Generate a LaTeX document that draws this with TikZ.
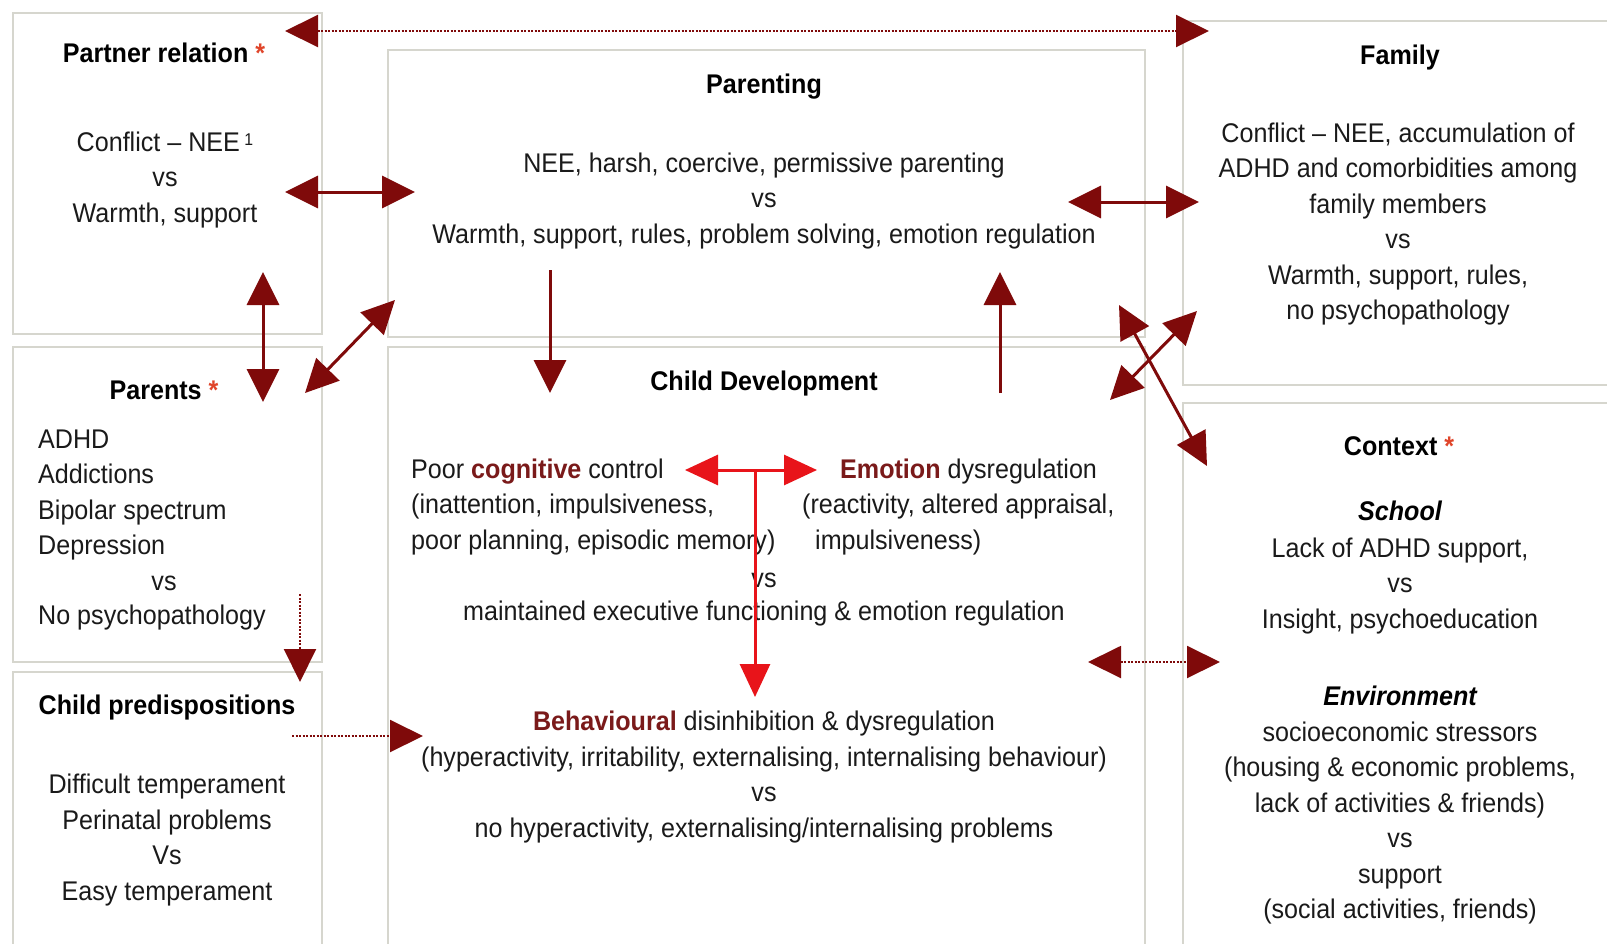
\documentclass[tikz,border=0pt]{standalone}
\usepackage{fontspec}
\setmainfont{Liberation Sans}[FakeStretch=0.93]
\usetikzlibrary{arrows.meta}
\definecolor{arrowred}{HTML}{7F0A0A}
\definecolor{brightred}{HTML}{E8141A}
\definecolor{boldred}{HTML}{7A1A1A}
\definecolor{astcol}{HTML}{E0452A}
\definecolor{txt}{HTML}{1A1A1A}
\definecolor{boxgray}{HTML}{D6D6CE}
\newcommand{\astmark}{\textcolor{astcol}{*}}
\newcommand{\hlword}[1]{\textbf{\textcolor{boldred}{#1}}}
\begin{document}
\begin{tikzpicture}[x=1pt,y=-1pt,
  box/.style={draw=boxgray, line width=1.5pt, fill=none, anchor=north west, inner sep=0pt},
  body/.style={text=txt, inner sep=0pt, align=center, font=\fontsize{27}{35.5}\selectfont},
  ttl/.style={text=black, inner sep=0pt, font=\fontsize{27}{32}\selectfont\bfseries},
  dblarrow/.style={draw=arrowred, line width=3pt, {Triangle[length=33pt,width=32pt]}-{Triangle[length=33pt,width=32pt]}},
  sglarrow/.style={draw=arrowred, line width=3pt, -{Triangle[length=33pt,width=32pt]}},
  dotdbl/.style={draw=arrowred, line width=2pt, dash pattern=on 2pt off 1.5pt, {Triangle[length=33pt,width=32pt]}-{Triangle[length=33pt,width=32pt]}},
  dotsgl/.style={draw=arrowred, line width=2pt, dash pattern=on 2pt off 1.5pt, -{Triangle[length=33pt,width=32pt]}},
  reddbl/.style={draw=brightred, line width=3pt, {Triangle[length=33pt,width=30pt]}-{Triangle[length=33pt,width=30pt]}},
  redsgl/.style={draw=brightred, line width=3pt, -{Triangle[length=33pt,width=30pt]}}
]
\useasboundingbox (0,0) rectangle (1607,943);
\fill[white] (0,0) rectangle (1607,943);

% boxes
\node[box, minimum width=309pt, minimum height=321pt] (partnerbox) at (12,12) {};
\node[box, minimum width=757pt, minimum height=287pt] (parentingbox) at (387,49) {};
\node[box, minimum width=440pt, minimum height=364pt] (familybox) at (1182,20) {};
\node[box, minimum width=309pt, minimum height=315pt] (parentsbox) at (12,346) {};
\node[box, minimum width=309pt, minimum height=290pt] (predbox) at (12,671) {};
\node[box, minimum width=757pt, minimum height=610pt] (devbox) at (387,346) {};
\node[box, minimum width=440pt, minimum height=560pt] (contextbox) at (1182,402) {};

% Partner relation
\node[ttl] (partnertitle) at (164,53) {Partner relation \astmark};
\node[body] (partnertext) at (165,180) {Conflict -- NEE\,\raisebox{0.45ex}{\fontsize{17}{17}\selectfont 1}\\vs\\Warmth, support};

% Parenting
\node[ttl] (parentingtitle) at (764,87) {Parenting};
\node[body] (parentingtext) at (764,201) {NEE, harsh, coercive, permissive parenting\\vs\\Warmth, support, rules, problem solving, emotion regulation};

% Family
\node[ttl] (familytitle) at (1400,58) {Family};
\node[body] (familytext) at (1398,224) {Conflict -- NEE, accumulation of\\ADHD and comorbidities among\\family members\\vs\\Warmth, support, rules,\\no psychopathology};

% Parents
\node[ttl] (parentstitle) at (164,390) {Parents \astmark};
\node[body, align=left, anchor=west] (parentslist) at (38,495) {ADHD\\Addictions\\Bipolar spectrum\\Depression};
\node[body] (parentsvs) at (164,583) {vs};
\node[body, anchor=west] (parentsno) at (38,618) {No psychopathology};

% Child predispositions
\node[ttl] (predtitle) at (167,708) {Child predispositions};
\node[body] (predtext) at (167,840) {Difficult temperament\\Perinatal problems\\Vs\\Easy temperament};

% Child development
\node[ttl] (devtitle) at (764,384) {Child Development};
\node[body, align=left, anchor=west] (cogtext) at (411,507) {Poor \hlword{cognitive} control\\(inattention, impulsiveness,\\poor planning, episodic memory)};
\node[body, align=left, anchor=west] (emotext) at (802,507) {\hspace*{38pt}\hlword{Emotion} dysregulation\\(reactivity, altered appraisal,\\\hspace*{13pt}impulsiveness)};
\node[body] (devvs) at (764,580) {vs};
\node[body] (devmaint) at (764,614) {maintained executive functioning \& emotion regulation};
\node[body] (behtext) at (764,777) {\hlword{Behavioural} disinhibition \& dysregulation\\(hyperactivity, irritability, externalising, internalising behaviour)\\vs\\no hyperactivity, externalising/internalising problems};

% Context
\node[ttl] (contexttitle) at (1399,446) {Context \astmark};
\node[ttl, font=\fontsize{27}{32}\selectfont\bfseries\itshape] (schooltitle) at (1400,511) {School};
\node[body] (schooltext) at (1400,586) {Lack of ADHD support,\\vs\\Insight, psychoeducation};
\node[ttl, font=\fontsize{27}{32}\selectfont\bfseries\itshape] (envtitle) at (1400,696) {Environment};
\node[body] (envtext) at (1400,823) {socioeconomic stressors\\(housing \& economic problems,\\lack of activities \& friends)\\vs\\support\\(social activities, friends)};

% arrow end points
\coordinate (topL) at (285,31);
\coordinate (topR) at (1209,31);
\coordinate (ppL) at (285,192);
\coordinate (ppR) at (415,192);
\coordinate (fpL) at (1068,202);
\coordinate (fpR) at (1199,202);
\coordinate (prT) at (263,272);
\coordinate (prB) at (263,402);
\coordinate (diagA) at (305,393);
\coordinate (diagB) at (395,300);
\coordinate (downS) at (550,270);
\coordinate (downE) at (550,393);
\coordinate (upS) at (1000,393);
\coordinate (upE) at (1000,272);
\coordinate (xaS) at (1119,305);
\coordinate (xaE) at (1207,466);
\coordinate (xbS) at (1110,400);
\coordinate (xbE) at (1197,311);
\coordinate (dpS) at (300,594);
\coordinate (dpE) at (300,682);
\coordinate (dcS) at (292,736);
\coordinate (dcE) at (423,736);
\coordinate (ctL) at (1088,662);
\coordinate (ctR) at (1220,662);
\coordinate (redL) at (685,470);
\coordinate (redR) at (817,470);
\coordinate (redM) at (755,470);
\coordinate (redB) at (755,697);

% connectors
\draw[dotdbl] (topL) -- (topR);
\draw[dblarrow] (ppL) -- (ppR);
\draw[dblarrow] (fpL) -- (fpR);
\draw[dblarrow] (prT) -- (prB);
\draw[dblarrow] (diagA) -- (diagB);
\draw[sglarrow] (downS) -- (downE);
\draw[sglarrow] (upS) -- (upE);
\draw[dblarrow] (xaS) -- (xaE);
\draw[dblarrow] (xbS) -- (xbE);
\draw[dotsgl] (dpS) -- (dpE);
\draw[dotsgl] (dcS) -- (dcE);
\draw[dotdbl] (ctL) -- (ctR);
\draw[reddbl] (redL) -- (redR);
\draw[redsgl] (redM) -- (redB);
\end{tikzpicture}
\end{document}
